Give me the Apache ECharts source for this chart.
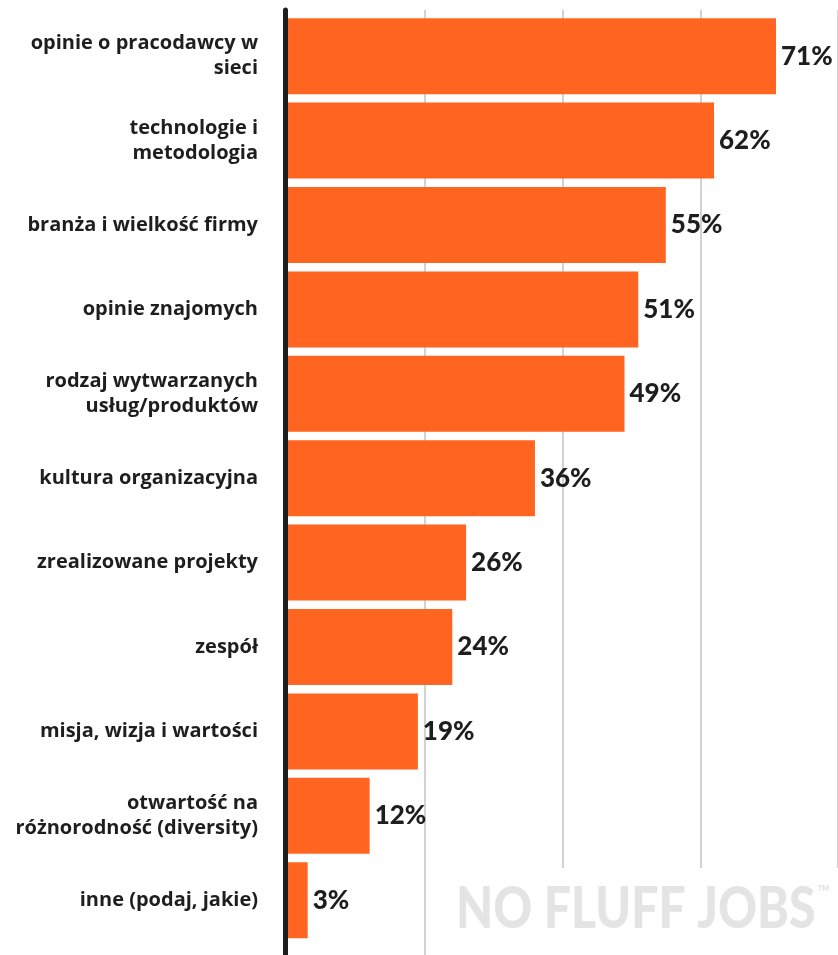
<!DOCTYPE html>
<html>
<head>
<meta charset="utf-8">
<script src="https://cdn.jsdelivr.net/npm/echarts@6/dist/echarts.min.js"></script>
<style>
  html, body { margin: 0; padding: 0; background: #ffffff; }
  #chart { width: 838px; height: 955px; }
</style>
</head>
<body>
<div id="chart"></div>
<script>
// Factors considered when assessing an employer (share of answers, %)
const categories = [
  'opinie o pracodawcy w\nsieci',
  'technologie i\nmetodologia',
  'branża i wielkość firmy',
  'opinie znajomych',
  'rodzaj wytwarzanych\nusług/produktów',
  'kultura organizacyjna',
  'zrealizowane projekty',
  'zespół',
  'misja, wizja i wartości',
  'otwartość na\nróżnorodność (diversity)',
  'inne (podaj, jakie)'
];
const values = [71, 62, 55, 51, 49, 36, 26, 24, 19, 12, 3];
const axisMax = 80;
const axisStep = 20;

const BAR = '#ff6421';
const INK = '#1e1e1e';
const PLOT_LEFT = 287;
const PLOT_WIDTH = 555;

const chart = echarts.init(document.getElementById('chart'), null, { renderer: 'canvas' });

chart.setOption({
  animation: false,
  backgroundColor: '#ffffff',
  grid: [
    // bars and category labels
    { left: PLOT_LEFT, width: PLOT_WIDTH, top: 14, height: 928.4, containLabel: false },
    // full-height frame: vertical axis line and grid lines
    { left: PLOT_LEFT, width: PLOT_WIDTH, top: 10, bottom: -10, containLabel: false }
  ],
  xAxis: [
    {
      gridIndex: 0, type: 'value', min: 0, max: axisMax, interval: axisStep,
      axisLine: { show: false }, axisTick: { show: false },
      axisLabel: { show: false }, splitLine: { show: false }
    },
    {
      gridIndex: 1, type: 'value', min: 0, max: axisMax, interval: axisStep,
      axisLine: { show: false }, axisTick: { show: false },
      axisLabel: { show: false },
      splitLine: { show: true, lineStyle: { color: '#d2d2d2', width: 2 } }
    }
  ],
  yAxis: [
    {
      gridIndex: 0, type: 'category', data: categories, inverse: true,
      axisLine: { show: false }, axisTick: { show: false },
      axisLabel: {
        margin: 29,
        color: INK,
        fontFamily: 'Open Sans',
        fontWeight: 700,
        fontSize: 20,
        lineHeight: 25,
        padding: [4, 0, 0, 0],
        align: 'right'
      }
    },
    {
      gridIndex: 1, type: 'value', min: 0, max: 1, z: 5, offset: 1.5,
      axisLine: { show: true, onZero: false, lineStyle: { color: INK, width: 5 } },
      axisTick: { show: false }, axisLabel: { show: false }, splitLine: { show: false }
    }
  ],
  series: [
    {
      type: 'bar',
      xAxisIndex: 0,
      yAxisIndex: 0,
      data: values,
      barCategoryGap: '10%',
      itemStyle: { color: BAR },
      label: {
        show: true,
        position: 'right',
        distance: 5,
        formatter: '{c}%',
        color: INK,
        fontFamily: 'Lato',
        fontWeight: 900,
        fontSize: 26
      },
      z: 2
    }
  ],
  graphic: [
    {
      type: 'rect',
      x: 426, y: 868, z: 10,
      shape: { width: 420, height: 100 },
      style: { fill: '#ffffff' }
    },
    {
      type: 'text',
      x: 456, y: 881, z: 11,
      scaleX: 0.845,
      style: {
        text: 'NO FLUFF JOBS',
        fill: '#e4e4e4',
        font: '900 57px Lato'
      }
    },
    {
      type: 'text',
      x: 818, y: 885, z: 11,
      style: { text: 'TM', fill: '#dcdcdc', font: '700 7px Lato' }
    }
  ]
});
</script>
</body>
</html>
